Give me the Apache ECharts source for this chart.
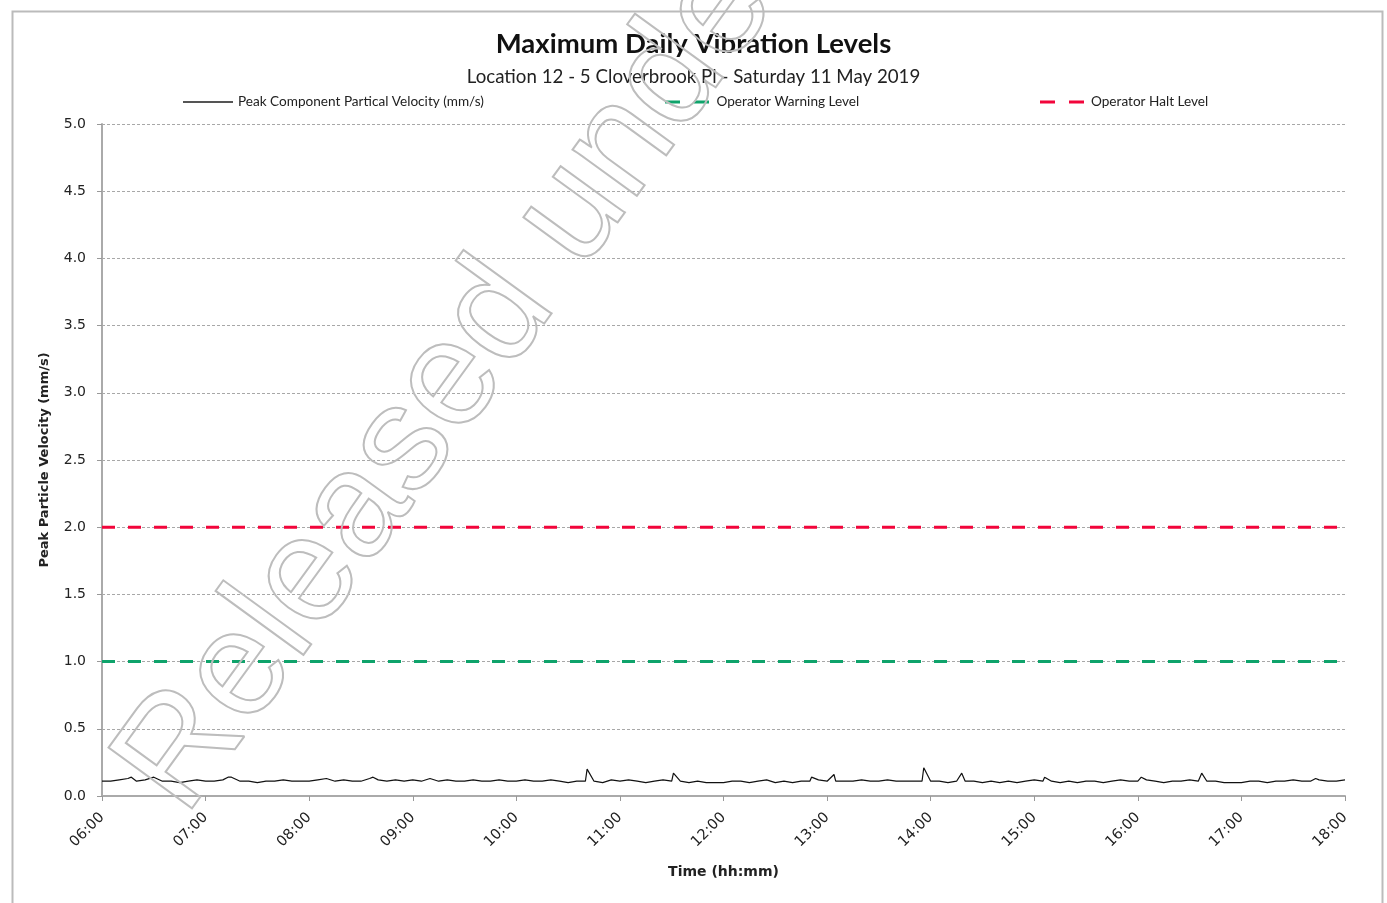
<!DOCTYPE html>
<html>
<head>
<meta charset="utf-8">
<script src="https://cdn.jsdelivr.net/npm/echarts@6/dist/echarts.min.js"></script>
<style>
html,body{margin:0;padding:0;background:#fff;}
#chart{width:1387px;height:903px;}
</style>
</head>
<body>
<div id="chart"></div>
<script>
// ---- data ----
const chartTitle = 'Maximum Daily Vibration Levels';
const chartSubtitle = 'Location 12 - 5 Cloverbrook Pl - Saturday 11 May 2019';
const seriesNames = ['Peak Component Partical Velocity (mm/s)', 'Operator Warning Level', 'Operator Halt Level'];
const startTime = '06:00';
const endTime = '18:00';
const stepMinutes = 5;
// Peak component particle velocity every 5 minutes, 06:00 .. 18:00 (mm/s)
const ppv5min = [
  0.11,0.11,0.12,0.13,0.11,0.12,0.14,0.11,0.11,0.10,0.11,0.12,
  0.11,0.11,0.12,0.14,0.11,0.11,0.10,0.11,0.11,0.12,0.11,0.11,
  0.11,0.12,0.13,0.11,0.12,0.11,0.11,0.13,0.12,0.11,0.12,0.11,
  0.12,0.11,0.13,0.11,0.12,0.11,0.11,0.12,0.11,0.11,0.12,0.11,
  0.11,0.12,0.11,0.11,0.12,0.11,0.10,0.11,0.11,0.11,0.10,0.12,
  0.11,0.12,0.11,0.10,0.11,0.12,0.11,0.11,0.10,0.11,0.10,0.10,
  0.10,0.11,0.11,0.10,0.11,0.12,0.10,0.11,0.10,0.11,0.11,0.12,
  0.11,0.11,0.11,0.11,0.12,0.11,0.11,0.12,0.11,0.11,0.11,0.11,
  0.11,0.11,0.10,0.11,0.11,0.11,0.10,0.11,0.10,0.11,0.10,0.11,
  0.12,0.11,0.11,0.10,0.11,0.10,0.11,0.11,0.10,0.11,0.12,0.11,
  0.11,0.12,0.11,0.10,0.11,0.11,0.12,0.11,0.11,0.11,0.10,0.10,
  0.10,0.11,0.11,0.10,0.11,0.11,0.12,0.11,0.11,0.12,0.11,0.11,
  0.12
];
// short-lived peaks between the 5-minute samples
const spikeTimes  = ['06:17','07:13','08:37','10:41','11:31','12:51','13:04','13:56','14:18','15:06','16:02','16:37','17:43'];
const spikeValues = [0.14,   0.14,   0.14,   0.20,   0.17,   0.14,   0.16,   0.21,   0.17,   0.14,   0.14,   0.17,   0.13];
const warningLevel = 1.0;
const haltLevel = 2.0;
const yTicks = ['0.0','0.5','1.0','1.5','2.0','2.5','3.0','3.5','4.0','4.5','5.0'];

// ---- build ----
function toMin(s){const p=s.split(':');return (+p[0])*60+(+p[1]);}
function fmt(m){const h=Math.floor(m/60),mm=m%60;return (h<10?'0':'')+h+':'+(mm<10?'0':'')+mm;}
const t0 = toMin(startTime), t1 = toMin(endTime);
let ppvData = ppv5min.map((v,i)=>[t0+i*stepMinutes, v]);
spikeTimes.forEach((t,i)=>ppvData.push([toMin(t), spikeValues[i]]));
ppvData.sort((a,b)=>a[0]-b[0]);
const warnData = [[t0,warningLevel],[t1,warningLevel]];
const haltData = [[t0,haltLevel],[t1,haltLevel]];

const chart = echarts.init(document.getElementById('chart'), null, {renderer:'canvas'});
const legendText = {fontFamily:'Lato', fontSize:13.6, color:'#222'};
const solidIcon = 'path://M0,0h50v2h-50z';
const dashIcon = 'path://M0,0h15v3h-15z M29,0h15v3h-15z';
chart.setOption({
  backgroundColor:'#fff',
  animation:false,
  title:[
    {text:chartTitle, left:'center', top:25, textStyle:{fontFamily:'Lato', fontWeight:'bold', fontSize:27.5, color:'#111'}},
    {text:chartSubtitle, left:'center', top:62, textStyle:{fontFamily:'Lato', fontWeight:'normal', fontSize:18.7, color:'#222'}}
  ],
  legend:[
    {data:[{name:seriesNames[0], icon:solidIcon}], left:178, top:90, itemWidth:50, itemHeight:2, itemGap:5, textStyle:legendText},
    {data:[{name:seriesNames[1], icon:dashIcon}], left:660, top:90, itemWidth:49, itemHeight:3, itemGap:11, textStyle:legendText},
    {data:[{name:seriesNames[2], icon:dashIcon}], left:1035, top:90, itemWidth:48, itemHeight:3, itemGap:10, textStyle:legendText}
  ],
  grid:{left:102, right:42, top:124, bottom:107, containLabel:false},
  xAxis:{
    type:'value', min:t0, max:t1, interval:60,
    name:'Time (hh:mm)', nameLocation:'middle', nameGap:69,
    nameTextStyle:{fontFamily:'DejaVu Sans', fontWeight:'bold', fontSize:14, color:'#222'},
    axisLine:{show:true, lineStyle:{color:'#aaa', width:2}},
    axisTick:{show:true, length:5, lineStyle:{color:'#999'}},
    axisLabel:{rotate:45, margin:19, formatter:v=>fmt(v), fontFamily:'DejaVu Sans', fontSize:14.5, color:'#222'},
    splitLine:{show:false}
  },
  yAxis:{
    type:'value', min:0, max:5, interval:0.5,
    name:'Peak Particle Velocity (mm/s)', nameLocation:'middle', nameGap:51,
    nameTextStyle:{fontFamily:'DejaVu Sans', fontWeight:'bold', fontSize:13, color:'#222'},
    axisLine:{show:true, lineStyle:{color:'#aaa', width:2}},
    axisTick:{show:true, length:5, lineStyle:{color:'#999'}},
    axisLabel:{margin:16, formatter:v=>yTicks[Math.round(v/0.5)], fontFamily:'DejaVu Sans', fontSize:14, color:'#222'},
    splitLine:{show:true, lineStyle:{color:'#a8a8a8', width:1, type:[3,2]}}
  },
  series:[
    {name:seriesNames[0], type:'line', data:ppvData, showSymbol:false, symbol:'none', lineStyle:{color:'#111', width:1.2}, itemStyle:{color:'#555'}, z:5},
    {name:seriesNames[1], type:'line', data:warnData, showSymbol:false, symbol:'none', lineStyle:{color:'#0fa36b', width:3, type:[13,13]}, itemStyle:{color:'#0fa36b'}, z:4},
    {name:seriesNames[2], type:'line', data:haltData, showSymbol:false, symbol:'none', lineStyle:{color:'#f2053b', width:3, type:[13,13]}, itemStyle:{color:'#f2053b'}, z:4}
  ],
  graphic:[
    {type:'rect', left:10, top:9, shape:{width:1370, height:900}, style:{fill:'none', stroke:'#bbb', lineWidth:2}, silent:true, z:-1},
    {type:'text', x:212, y:838, rotation:54*Math.PI/180, silent:true, z:10,
     style:{text:'Released under', fontFamily:'Liberation Sans', fontSize:150, fill:'none', stroke:'#bdbdbd', lineWidth:2, verticalAlign:'bottom', align:'left'}}
  ]
});
</script>
</body>
</html>
